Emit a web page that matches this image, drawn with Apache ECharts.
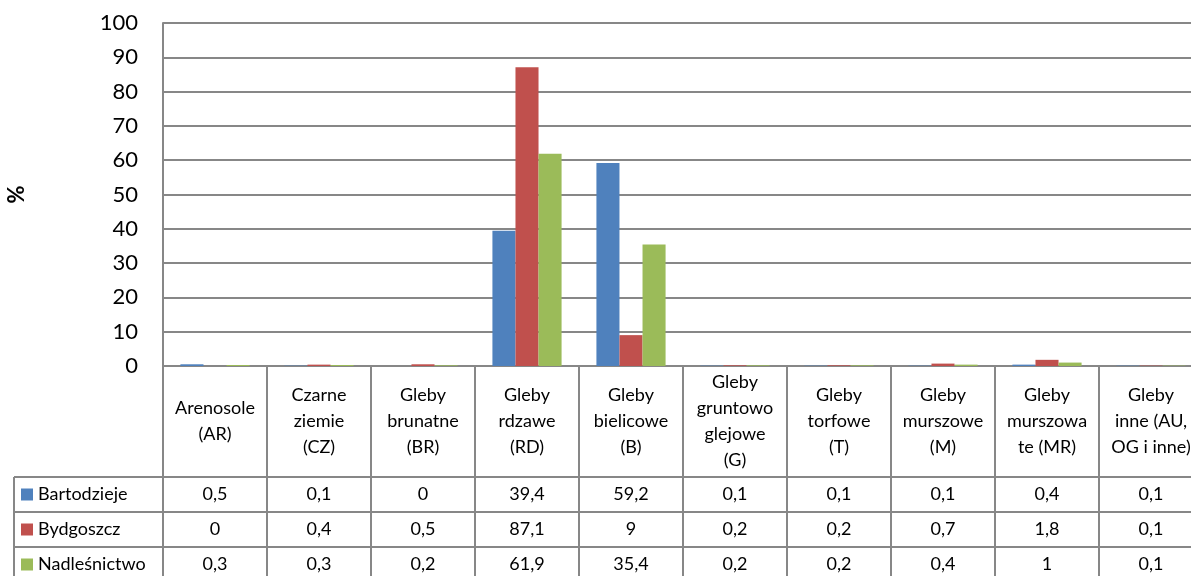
<!DOCTYPE html>
<html>
<head>
<meta charset="utf-8">
<script src="https://cdn.jsdelivr.net/npm/echarts@6/dist/echarts.min.js"></script>
<style>
  html, body { margin: 0; padding: 0; background: #fff; }
  #chart { width: 1191px; height: 576px; }
</style>
</head>
<body>
<div id="chart"></div>
<script>
// Soil types (table header), one column per category
const categories = [
  'Arenosole\n(AR)',
  'Czarne\nziemie\n(CZ)',
  'Gleby\nbrunatne\n(BR)',
  'Gleby\nrdzawe\n(RD)',
  'Gleby\nbielicowe\n(B)',
  'Gleby\ngruntowo\nglejowe\n(G)',
  'Gleby\ntorfowe\n(T)',
  'Gleby\nmurszowe\n(M)',
  'Gleby\nmurszowa\nte (MR)',
  'Gleby\ninne (AU,\nOG i inne)'
];

// Share of each soil type, %
const bartodzieje  = [0.5, 0.1, 0, 39.4, 59.2, 0.1, 0.1, 0.1, 0.4, 0.1];
const bydgoszcz    = [0, 0.4, 0.5, 87.1, 9, 0.2, 0.2, 0.7, 1.8, 0.1];
const nadlesnictwo = [0.3, 0.3, 0.2, 61.9, 35.4, 0.2, 0.2, 0.4, 1, 0.1];

const seriesNames = ['Bartodzieje', 'Bydgoszcz', 'Nadleśnictwo'];
const seriesValues = [bartodzieje, bydgoszcz, nadlesnictwo];
const seriesColors = ['#4F81BD', '#C0504D', '#9BBB59'];

const yTicks = { min: 0, max: 100, interval: 10 };

const FONT = 'Lato, "Open Sans", sans-serif';
const LINE = '#878787';

const chart = echarts.init(document.getElementById('chart'));

const option = {
  animation: false,
  backgroundColor: '#ffffff',
  // the plot runs slightly past the right edge of the canvas
  grid: {
    left: 163, width: 1040, top: 23, height: 343,
    containLabel: false,
    outerBoundsMode: 'none'
  },
  xAxis: {
    type: 'category',
    data: categories,
    axisLine: { show: true, lineStyle: { color: LINE, width: 2 } },
    axisTick: { show: true, alignWithLabel: false, length: 212, lineStyle: { color: LINE, width: 2 } },
    axisLabel: { show: false },
    splitLine: { show: false }
  },
  yAxis: {
    type: 'value',
    min: yTicks.min,
    max: yTicks.max,
    interval: yTicks.interval,
    name: '%',
    nameLocation: 'middle',
    nameRotate: 90,
    nameGap: 135,
    nameTextStyle: { fontFamily: FONT, fontSize: 22, fontWeight: 'bold', color: '#000' },
    axisLine: { show: true, lineStyle: { color: LINE, width: 2 } },
    axisTick: { show: false },
    axisLabel: { margin: 25, fontFamily: FONT, fontSize: 22, color: '#000' },
    splitLine: { show: true, lineStyle: { color: LINE, width: 2 } }
  },
  series: seriesValues.map((vals, i) => ({
    name: seriesNames[i],
    type: 'bar',
    data: vals,
    barGap: '0%',
    barCategoryGap: '33.5%',
    itemStyle: { color: seriesColors[i] }
  }))
};

chart.setOption(option);

// Data table under the plot: header row with soil names, then one row per series
function buildTable() {
  const y0 = chart.convertToPixel({ yAxisIndex: 0 }, 0);
  const headerBottom = y0 + 111;
  const rowH = 35;
  const tableLeft = 14;
  const elements = [];
  const fmt = v => String(v).replace('.', ',');

  // horizontal row lines
  for (let r = 0; r <= 3; r++) {
    const y = headerBottom + r * rowH;
    elements.push({
      type: 'line',
      shape: { x1: tableLeft, y1: y, x2: 1191, y2: y },
      style: { stroke: LINE, lineWidth: 2 },
      silent: true
    });
  }
  // left border of the legend column
  elements.push({
    type: 'line',
    shape: { x1: tableLeft, y1: headerBottom, x2: tableLeft, y2: 576 },
    style: { stroke: LINE, lineWidth: 2 },
    silent: true
  });

  // header labels
  const headerMid = (y0 + headerBottom) / 2;
  categories.forEach((c, j) => {
    const cx = chart.convertToPixel({ xAxisIndex: 0 }, j);
    elements.push({
      type: 'text',
      x: cx,
      y: headerMid,
      silent: true,
      style: {
        text: c,
        fontFamily: FONT,
        fontSize: 18,
        lineHeight: 26,
        fill: '#000',
        align: 'center',
        verticalAlign: 'middle'
      }
    });
  });

  // series rows: legend key, name and values
  seriesNames.forEach((name, i) => {
    const cy = headerBottom + i * rowH + rowH / 2;
    elements.push({
      type: 'rect',
      shape: { x: 21, y: cy - 6, width: 12, height: 12 },
      style: { fill: seriesColors[i] },
      silent: true
    });
    elements.push({
      type: 'text',
      x: 38,
      y: cy,
      silent: true,
      style: { text: name, fontFamily: FONT, fontSize: 18, fill: '#000', align: 'left', verticalAlign: 'middle' }
    });
    seriesValues[i].forEach((v, j) => {
      const cx = chart.convertToPixel({ xAxisIndex: 0 }, j);
      elements.push({
        type: 'text',
        x: cx,
        y: cy,
        silent: true,
        style: { text: fmt(v), fontFamily: FONT, fontSize: 18, fill: '#000', align: 'center', verticalAlign: 'middle' }
      });
    });
  });

  chart.setOption({ graphic: elements });
}

buildTable();
</script>
</body>
</html>
